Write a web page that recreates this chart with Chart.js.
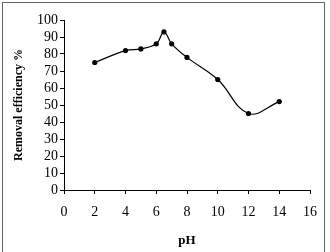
<!DOCTYPE html>
<html><head><meta charset="utf-8">
<script src="https://cdn.jsdelivr.net/npm/chart.js@4"></script>
<style>
html,body{margin:0;padding:0;background:#fff;}
#wrap{position:relative;width:330px;height:252px;overflow:hidden;}
#frame{position:absolute;left:2px;top:2px;width:321px;height:270px;border:1.5px solid #666;}
canvas{position:absolute;left:0;top:0;}
</style></head>
<body><div id="wrap"><div id="frame"></div><canvas id="c" width="330" height="252"></canvas></div>
<script>
const phValues = [2, 4, 5, 6, 6.5, 7, 8, 10, 12, 14];
const removalEfficiency = [75, 82, 83, 86, 93, 86, 78, 65, 45, 52];
const xTicks = [0, 2, 4, 6, 8, 10, 12, 14, 16];
const yTicks = [0, 10, 20, 30, 40, 50, 60, 70, 80, 90, 100];

const font = {family: '"Liberation Serif", "Times New Roman", serif', size: 14};
new Chart(document.getElementById('c'), {
  type: 'line',
  data: {
    datasets: [{
      data: phValues.map((x, i) => ({x: x, y: removalEfficiency[i]})),
      borderColor: '#000', backgroundColor: '#000', borderWidth: 1.2,
      pointRadius: 2.6, pointBackgroundColor: '#000', pointBorderWidth: 0,
      tension: 0.4, fill: false
    }]
  },
  options: {
    responsive: false, animation: false, devicePixelRatio: 1,
    layout: {padding: {left: 0, right: 20, top: 20, bottom: 0}},
    plugins: {legend: {display: false}, tooltip: {enabled: false}},
    scales: {
      x: {
        type: 'linear', min: 0, max: 16,
        afterBuildTicks: s => { s.ticks = xTicks.map(v => ({value: v})); },
        afterFit: s => { s.height = 62; },
        grid: {drawOnChartArea: false, drawTicks: true, tickLength: 4, color: '#000'},
        border: {color: '#000', width: 1},
        ticks: {color: '#000', font: font, padding: 10, maxRotation: 0, autoSkip: false},
        title: {display: true, text: 'pH', color: '#000', font: {family: font.family, size: 13, weight: 'bold'}, padding: {top: 3}}
      },
      y: {
        min: 0, max: 100,
        afterBuildTicks: s => { s.ticks = yTicks.map(v => ({value: v})); },
        afterFit: s => { s.width = 64; },
        grid: {drawOnChartArea: false, drawTicks: true, tickLength: 4, color: '#000'},
        border: {color: '#000', width: 1},
        ticks: {color: '#000', font: font, padding: 2, autoSkip: false},
        title: {display: true, text: 'Removal efficiency %', color: '#000', font: {family: font.family, size: 12, weight: 'bold'}, padding: {top: 12, bottom: 2}}
      }
    }
  }
});
</script></body></html>
